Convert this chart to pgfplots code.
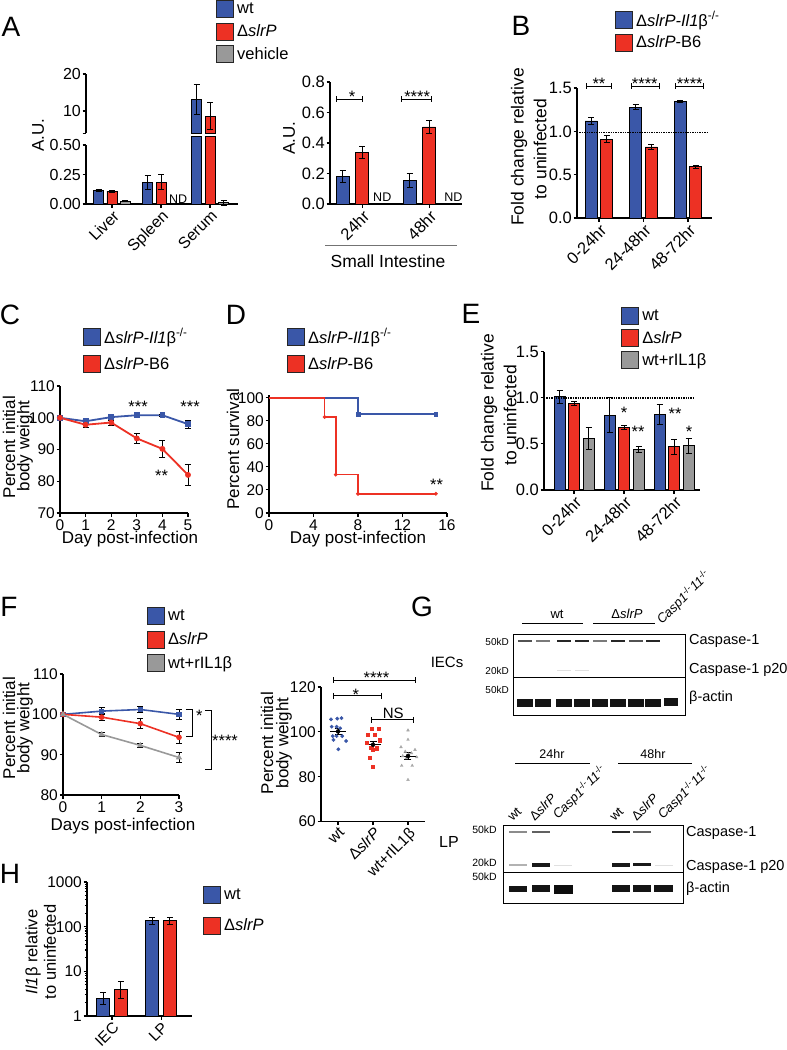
\documentclass[border=0pt]{standalone}
\usepackage{fontspec}
\setmainfont{Liberation Sans}
\usepackage{pgfplots}
\pgfplotsset{compat=1.18}
\definecolor{cb}{RGB}{58,87,168}
\definecolor{cr}{RGB}{237,49,36}
\definecolor{cg}{RGB}{153,153,153}
\newcommand{\fs}[1]{\fontsize{#1}{#1}\selectfont}
\newcommand{\ko}{\textsuperscript{-/-}}
\pgfplotsset{
 gp/.style={scale only axis, anchor=south west, axis lines*=left,
   axis line style={-, line width=1.1pt},
   tick style={line width=1.1pt, black},
   tick align=outside, major tick length=3.5pt, minor tick length=2.2pt,
   tick label style={font=\fs{15.5}},
   yticklabel style={inner sep=1.5pt},
   /pgf/number format/assume math mode=true,
   /pgf/number format/1000 sep={},
   clip=false,
   legend style={draw=none, fill=none, inner sep=0pt, outer sep=0pt, font=\fs{16.5}, anchor=north west, nodes={inner sep=1.5pt}, column sep=2pt},
   legend cell align=left},
 eb/.style={error bars/y dir=both, error bars/y explicit,
   error bars/error bar style={line width=0.9pt, black, solid},
   error bars/error mark options={rotate=90, line width=0.9pt, black, mark size=#1, solid}},
 eb/.default=3pt,
 sq/.style={legend image code/.code={\draw[fill=#1, draw=black!85, line width=0.7pt] (0pt,-8.5pt) rectangle (17pt,8.5pt);}},
 bb/.style={fill=#1, draw=black, line width=0.8pt},
 rot/.style={xticklabel style={rotate=45, anchor=north east, inner sep=1pt}},
 brk/.style={sharp plot, black, line width=1pt, mark=|, mark size=3pt, mark options={solid, line width=1pt}, forget plot},
 blot/.style={scale only axis, anchor=south west, xtick=\empty, ytick=\empty, axis line style={line width=1pt}, unbounded coords=jump, clip=true},
 f1/.style={y tick label style={/pgf/number format/fixed, /pgf/number format/fixed zerofill, /pgf/number format/precision=1}},
}
\tikzset{st/.style={font=\fs{16.5}, anchor=base, yshift=-9pt, inner sep=0pt}}
\begin{document}
\begin{tikzpicture}
\path[use as bounding box] (0pt,0pt) rectangle (787pt,-1050pt);
% panel letters
\node[font=\fs{28}] at (11pt,-27pt) {A};
\node[font=\fs{28}] at (521pt,-26pt) {B};
\node[font=\fs{28}] at (10pt,-315pt) {C};
\node[font=\fs{28}] at (236pt,-315pt) {D};
\node[font=\fs{28}] at (471pt,-314pt) {E};
\node[font=\fs{28}] at (9pt,-607pt) {F};
\node[font=\fs{28}] at (422pt,-607pt) {G};
\node[font=\fs{28}] at (10pt,-874pt) {H};

% ================= A (left, broken axis) =================
\begin{axis}[gp, rot, at={(86pt,-204pt)}, width=152pt, height=59pt,
 tick label style={font=\fs{16}},
 xmin=-0.53, xmax=2.57, ymin=0, ymax=0.5, ybar, bar width=0.204,
 xtick={0,1,2}, xticklabels={Liver,Spleen,Serum}, ytick={0,0.25,0.5},
 y tick label style={/pgf/number format/fixed, /pgf/number format/fixed zerofill, /pgf/number format/precision=2}]
\addplot[bb=cb, bar shift=-0.275, eb] coordinates {(0,0.115)+-(0,0.008) (1,0.18)+-(0,0.06)};
\addplot[bb=cr, bar shift=0, eb] coordinates {(0,0.11)+-(0,0.008) (1,0.185)+-(0,0.065)};
\addplot[bb=cg, bar shift=0.275, eb] coordinates {(0,0.022)+-(0,0.004) (2,0.012)+-(0,0.02)};
\addplot[bb=cb, bar shift=-0.275] coordinates {(2,0.57)};
\addplot[bb=cr, bar shift=0] coordinates {(2,0.57)};
\node[font=\fs{12.5}] at (axis cs:1.35,0.04) {ND};
\end{axis}
\begin{axis}[gp, at={(86pt,-133.2pt)}, width=152pt, height=59.2pt,
 tick label style={font=\fs{16}},
 xmin=-0.53, xmax=2.57, ymin=4, ymax=20, clip=true, axis x line=none, axis y line*=left,
 ytick={10,20}, extra y ticks={4}, extra y tick labels={}, ybar, bar width=0.204,
 legend style={at={(axis description cs:0.855,2.25)}, row sep=5pt}]
\addplot[bb=cb, bar shift=-0.275, eb, forget plot] coordinates {(2,13.2)+-(0,4.1)};
\addplot[bb=cr, bar shift=0, eb, forget plot] coordinates {(2,8.65)+-(0,3.7)};
\addlegendimage{sq=cb}\addlegendentry{wt}
\addlegendimage{sq=cr}\addlegendentry{Δ\textit{slrP}}
\addlegendimage{sq=cg}\addlegendentry{vehicle}
\end{axis}
\node[rotate=90, font=\fs{17}] at (38pt,-135pt) {A.U.};

% ================= A (right, small intestine) =================
\begin{axis}[gp, rot, f1, at={(330pt,-204pt)}, width=132pt, height=122pt,
 tick label style={font=\fs{16.5}},
 xmin=-0.48, xmax=1.49, ymin=0, ymax=0.8, ybar, bar width=0.194,
 xtick={0,1}, xticklabels={24hr,48hr}, ytick={0,0.2,0.4,0.6,0.8}]
\addplot[bb=cb, bar shift=-0.29, eb] coordinates {(0,0.18)+-(0,0.04) (1,0.155)+-(0,0.045)};
\addplot[bb=cr, bar shift=0, eb] coordinates {(0,0.34)+-(0,0.04) (1,0.505)+-(0,0.04)};
\addplot[brk] coordinates {(-0.38,0.686) (0,0.686)};
\addplot[brk] coordinates {(0.59,0.686) (1.04,0.686)};
\node[st] at (axis cs:-0.15,0.723) {*};
\node[st] at (axis cs:0.82,0.723) {****};
\node[font=\fs{12.5}] at (axis cs:0.3,0.046) {ND};
\node[font=\fs{12.5}] at (axis cs:1.36,0.046) {ND};
\end{axis}
\node[rotate=90, font=\fs{17}] at (289pt,-138pt) {A.U.};
\draw[line width=1pt, black!55] (325pt,-245pt) -- (457pt,-245pt);
\node[font=\fs{17.5}] at (388pt,-261pt) {Small Intestine};

% ================= B =================
\begin{axis}[gp, rot, f1, at={(577pt,-218pt)}, width=135pt, height=130pt,
 tick label style={font=\fs{16.5}},
 xmin=-0.494, xmax=2.54, ymin=0, ymax=1.5, ybar, bar width=0.27,
 xtick={0,1,2}, xticklabels={0-24hr,24-48hr,48-72hr}, ytick={0,0.5,1,1.5},
 legend style={at={(axis description cs:0.281,1.60)}, row sep=4.5pt}]
\addplot[bb=cb, bar shift=-0.175, eb, forget plot] coordinates {(0,1.12)+-(0,0.04) (1,1.28)+-(0,0.03) (2,1.35)+-(0,0.012)};
\addplot[bb=cr, bar shift=0.175, eb, forget plot] coordinates {(0,0.91)+-(0,0.04) (1,0.82)+-(0,0.03) (2,0.59)+-(0,0.02)};
\addplot[sharp plot, densely dotted, line width=1.4pt, black, forget plot] coordinates {(-0.494,0.985) (2.45,0.985)};
\addplot[brk] coordinates {(-0.29,1.523) (0.29,1.523)};
\addplot[brk] coordinates {(0.72,1.523) (1.37,1.523)};
\addplot[brk] coordinates {(1.73,1.523) (2.36,1.523)};
\node[st] at (axis cs:0,1.592) {**};
\node[st] at (axis cs:1.03,1.592) {****};
\node[st] at (axis cs:2.04,1.592) {****};
\addlegendimage{sq=cb}\addlegendentry{Δ\textit{slrP-Il1}β\ko}
\addlegendimage{sq=cr}\addlegendentry{Δ\textit{slrP}-B6}
\end{axis}
\node[rotate=90, font=\fs{17.5}] at (519pt,-147pt) {Fold change relative};
\node[rotate=90, font=\fs{17.5}] at (540pt,-149pt) {to uninfected};

% ================= C =================
\begin{axis}[gp, at={(60pt,-513pt)}, width=128pt, height=127pt,
 xmin=0, xmax=5, ymin=70, ymax=110, xtick={0,1,2,3,4,5}, ytick={70,80,90,100,110},
 legend style={at={(axis description cs:0.18,1.465)}, row sep=9pt}]
\addplot[cb, line width=1.8pt, mark=square*, mark size=2pt, mark options={solid}, eb, forget plot] coordinates {(0,100)+-(0,0) (1,98.9)+-(0,0.5) (2,100.2)+-(0,0.5) (3,100.8)+-(0,0.3) (4,100.8)+-(0,0.3) (5,98)+-(0,1.3)};
\addplot[cr, line width=1.8pt, mark=*, mark size=2pt, mark options={solid}, eb, forget plot] coordinates {(0,100)+-(0,0) (1,97.8)+-(0,1) (2,98.5)+-(0,0.8) (3,93.5)+-(0,1.7) (4,90.2)+-(0,2.8) (5,82)+-(0,3.4)};
\node[st] at (axis cs:3.05,104.5) {***};
\node[st] at (axis cs:5.08,104.5) {***};
\node[st] at (axis cs:3.97,82.8) {**};
\addlegendimage{sq=cb}\addlegendentry{Δ\textit{slrP-Il1}β\ko}
\addlegendimage{sq=cr}\addlegendentry{Δ\textit{slrP}-B6}
\end{axis}
\node[rotate=90, font=\fs{17}] at (9pt,-447pt) {Percent initial};
\node[rotate=90, font=\fs{17}] at (25pt,-446pt) {body weight};
\node[font=\fs{17}] at (130pt,-539pt) {Day post-infection};

% ================= D =================
\begin{axis}[gp, at={(269pt,-513pt)}, width=178pt, height=117.6pt,
 xmin=0, xmax=16, ymin=0, ymax=102, xtick={0,4,8,12,16}, ytick={0,20,40,60,80,100},
 legend style={at={(axis description cs:0.101,1.582)}, row sep=9pt}]
\addplot[cb, const plot mark left, line width=1.6pt, forget plot] coordinates {(0,100) (8,85.7) (15,85.7)};
\addplot[cb, only marks, mark=square*, mark size=1.8pt, forget plot] coordinates {(8,85.7) (15,85.7)};
\addplot[cr, const plot mark left, line width=1.6pt, forget plot] coordinates {(0,100) (5,83.3) (6,33.3) (8,16.7) (15,16.7)};
\addplot[cr, only marks, mark=*, mark size=1.8pt, forget plot] coordinates {(5,83.3) (6,33.3) (8,16.7) (15,16.7)};
\node[st] at (axis cs:15.07,27.1) {**};
\addlegendimage{sq=cb}\addlegendentry{Δ\textit{slrP-Il1}β\ko}
\addlegendimage{sq=cr}\addlegendentry{Δ\textit{slrP}-B6}
\end{axis}
\node[rotate=90, font=\fs{17}] at (233pt,-449pt) {Percent survival};
\node[font=\fs{17}] at (358pt,-539pt) {Day post-infection};

% ================= E =================
\begin{axis}[gp, rot, f1, at={(544pt,-490pt)}, width=156pt, height=138.3pt,
 tick label style={font=\fs{16.5}},
 xmin=-0.6, xmax=2.52, ymin=0, ymax=1.5, ybar, bar width=0.22,
 xtick={0,1,2}, xticklabels={0-24hr,24-48hr,48-72hr}, ytick={0,0.5,1,1.5},
 legend style={at={(axis description cs:0.494,1.323)}, row sep=4.5pt}]
\addplot[bb=cb, bar shift=-0.29, eb, forget plot] coordinates {(0,1.01)+-(0,0.07) (1,0.81)+-(0,0.19) (2,0.82)+-(0,0.11)};
\addplot[bb=cr, bar shift=0, eb, forget plot] coordinates {(0,0.94)+-(0,0.02) (1,0.68)+-(0,0.02) (2,0.47)+-(0,0.08)};
\addplot[bb=cg, bar shift=0.29, eb, forget plot] coordinates {(0,0.56)+-(0,0.12) (1,0.44)+-(0,0.03) (2,0.48)+-(0,0.08)};
\addplot[sharp plot, densely dotted, line width=1.4pt, black, forget plot] coordinates {(-0.6,1.0) (2.38,1.0)};
\node[st] at (axis cs:1.0,0.87) {*};
\node[st] at (axis cs:1.28,0.67) {**};
\node[st] at (axis cs:2.02,0.86) {**};
\node[st] at (axis cs:2.3,0.67) {*};
\addlegendimage{sq=cb}\addlegendentry{wt}
\addlegendimage{sq=cr}\addlegendentry{Δ\textit{slrP}}
\addlegendimage{sq=cg}\addlegendentry{wt+rIL1β}
\end{axis}
\node[rotate=90, font=\fs{17.5}] at (489pt,-413pt) {Fold change relative};
\node[rotate=90, font=\fs{17.5}] at (510pt,-415pt) {to uninfected};

% ================= F (left) =================
\begin{axis}[gp, at={(63pt,-795pt)}, width=116pt, height=121pt,
 xmin=0, xmax=3, ymin=80, ymax=110, xtick={0,1,2,3}, ytick={80,90,100,110},
 legend style={at={(axis description cs:0.724,1.554)}, row sep=6pt}]
\addplot[cb, line width=1.6pt, mark=square*, mark size=1.8pt, mark options={solid}, eb, forget plot] coordinates {(0,100)+-(0,0) (1,100.8)+-(0,0.8) (2,101.2)+-(0,0.8) (3,100)+-(0,1.2)};
\addplot[cr, line width=1.6pt, mark=*, mark size=2pt, mark options={solid}, eb, forget plot] coordinates {(0,100)+-(0,0) (1,99.3)+-(0,0.8) (2,97.7)+-(0,1.2) (3,94.3)+-(0,1.5)};
\addplot[cg, line width=1.6pt, mark=triangle*, mark size=2pt, mark options={solid}, eb, forget plot] coordinates {(0,100)+-(0,0) (1,95)+-(0,0.5) (2,92.3)+-(0,0.6) (3,89.3)+-(0,1.3)};
\addplot[sharp plot, black, line width=1pt, forget plot] coordinates {(3.18,101.1) (3.35,101.1) (3.35,94.5) (3.18,94.5)};
\addplot[sharp plot, black, line width=1pt, forget plot] coordinates {(3.67,100.9) (3.84,100.9) (3.84,86.4) (3.67,86.4)};
\node[st] at (axis cs:3.525,100.4) {*};
\node[st] at (axis cs:4.19,94.2) {****};
\addlegendimage{sq=cb}\addlegendentry{wt}
\addlegendimage{sq=cr}\addlegendentry{Δ\textit{slrP}}
\addlegendimage{sq=cg}\addlegendentry{wt+rIL1β}
\end{axis}
\node[rotate=90, font=\fs{17}] at (9pt,-728pt) {Percent initial};
\node[rotate=90, font=\fs{17}] at (25pt,-728pt) {body weight};
\node[font=\fs{17}] at (123pt,-826pt) {Days post-infection};

% ================= F (right, scatter) =================
\begin{axis}[gp, at={(321pt,-821.5pt)}, width=104pt, height=134.5pt,
 xmin=-0.486, xmax=2.486, ymin=60, ymax=120, xtick={0,1,2},
 xticklabels={wt,Δ\textit{slrP},wt+rIL1β},
 xticklabel style={rotate=45, anchor=north east, inner sep=1pt},
 ytick={60,80,100,120}]
\addplot[only marks, mark=*, mark size=1.7pt, cb] coordinates {(-0.2,105.6) (-0.02,105.9) (0.1,106.1) (-0.18,102.3) (-0.04,102.3) (0.06,101.6) (-0.15,98.1) (-0.04,98.1) (0.12,98.1) (-0.13,96.4) (0.23,95.9) (0.01,92.2)};
\addplot[only marks, mark=square*, mark size=1.6pt, cr] coordinates {(0.97,101.5) (1.17,101.4) (0.85,98.8) (1.05,98.7) (1.18,96.3) (0.83,95) (0.95,93.1) (1.1,92.7) (1.0,92.2) (0.9,88.5) (0.99,84.5)};
\addplot[only marks, mark=triangle*, mark size=1.6pt, cg!85] coordinates {(2.0,100.7) (2.0,96.5) (1.8,93.2) (2.2,92.0) (1.92,91.2) (2.1,90.5) (2.02,90.0) (1.85,89.2) (2.25,88.7) (1.95,88.3) (1.82,84.9) (2.12,84.9) (2.0,78.6)};
\addplot[sharp plot, black, line width=1.1pt] coordinates {(-0.22,100.2) (0.22,100.2)};
\addplot[sharp plot, black, line width=1.1pt] coordinates {(0.78,94.25) (1.22,94.25)};
\addplot[sharp plot, black, line width=1.1pt] coordinates {(1.78,89.2) (2.22,89.2)};
\addplot[only marks, mark=none, eb=3.5pt] coordinates {(0,100.2)+-(0,1.2) (1,94.25)+-(0,1.6) (2,89.2)+-(0,1.5)};
\addplot[brk] coordinates {(-0.13,123.1) (2.22,123.1)};
\addplot[brk] coordinates {(-0.13,116) (1.23,116)};
\addplot[brk] coordinates {(0.96,105.3) (2.17,105.3)};
\node[st] at (axis cs:1.1,125.4) {****};
\node[st] at (axis cs:0.51,117.9) {*};
\node[font=\fs{15}, anchor=south, inner sep=1pt] at (axis cs:1.58,105.5) {NS};
\end{axis}
\node[rotate=90, font=\fs{17}] at (267pt,-743pt) {Percent initial};
\node[rotate=90, font=\fs{17}] at (284pt,-743pt) {body weight};

% ================= H =================
\begin{axis}[gp, rot, at={(87pt,-1016pt)}, width=105pt, height=134pt,
 xmin=-0.51, xmax=1.63, ymode=log, ymin=1, ymax=1000, log ticks with fixed point,
 ytick={1,10,100,1000}, ybar, bar width=0.265, xtick={0,1}, xticklabels={IEC,LP},
 legend style={at={(axis description cs:1.105,0.97)}, row sep=13pt}]
\addplot[bb=cb, bar shift=-0.18, eb, forget plot] coordinates {(0,2.5) += (0,0.8) -= (0,0.7) (1,135) += (0,25) -= (0,20)};
\addplot[bb=cr, bar shift=0.18, eb, forget plot] coordinates {(0,4) += (0,2) -= (0,1.5) (1,135) += (0,27) -= (0,23)};
\addlegendimage{sq=cb}\addlegendentry{wt}
\addlegendimage{sq=cr}\addlegendentry{Δ\textit{slrP}}
\end{axis}
\node[rotate=90, font=\fs{16.5}] at (33pt,-952pt) {\textit{Il1}β relative};
\node[rotate=90, font=\fs{16.5}] at (50pt,-952pt) {to uninfected};

% ================= G (IECs blot) =================
\begin{axis}[blot, at={(513pt,-715pt)}, width=172pt, height=81pt, xmin=513, xmax=685, ymin=0, ymax=81]
\addplot[black!85, line width=2.6pt] coordinates {(557,74)(571,74) (0,nan) (575,74)(589,74) (0,nan) (611,74)(625,74) (0,nan) (646,74)(660,74)};
\addplot[black!68, line width=2.2pt] coordinates {(518,74)(532,74) (0,nan) (629,74)(643,74)};
\addplot[black!52, line width=2pt] coordinates {(536,74)(550,74) (0,nan) (593,74)(607,74)};
\addplot[black!12, line width=1pt] coordinates {(557,45)(571,45) (0,nan) (575,45)(589,45)};
\addplot[black!92, line width=8pt] coordinates {(517,12)(533,12) (0,nan) (535,12)(551,12) (0,nan) (556,12)(572,12) (0,nan) (574,12)(590,12) (0,nan) (592,12)(608,12) (0,nan) (610,12)(626,12) (0,nan) (628,12)(644,12) (0,nan) (645,12)(661,12) (0,nan) (664,13.5)(678,13.5)};
\addplot[black, line width=1pt] coordinates {(513,38)(685,38)};
\end{axis}
\node[font=\fs{15}] at (447pt,-662pt) {IECs};
\node[font=\fs{13}] at (557pt,-614pt) {wt};
\draw[line width=0.9pt] (522pt,-623pt) -- (583pt,-623pt);
\node[font=\fs{13}] at (627pt,-614pt) {Δ\textit{slrP}};
\draw[line width=0.9pt] (593pt,-623pt) -- (655pt,-623pt);
\node[font=\fs{13}, rotate=45, anchor=south west, inner sep=0pt] at (664pt,-627pt) {\textit{Casp1}\ko\textit{11}\ko};
\node[font=\fs{10}, anchor=east, inner sep=0pt] at (509pt,-642pt) {50kD};
\node[font=\fs{10}, anchor=east, inner sep=0pt] at (509pt,-671pt) {20kD};
\node[font=\fs{10}, anchor=east, inner sep=0pt] at (509pt,-690pt) {50kD};
\node[font=\fs{14.5}, anchor=west, inner sep=0pt] at (689pt,-641pt) {Caspase-1};
\node[font=\fs{14.5}, anchor=west, inner sep=0pt] at (689pt,-670pt) {Caspase-1 p20};
\node[font=\fs{14.5}, anchor=west, inner sep=0pt] at (689pt,-698pt) {β-actin};

% ================= G (LP blot) =================
\begin{axis}[blot, at={(503pt,-903pt)}, width=180pt, height=78pt, xmin=503, xmax=683, ymin=0, ymax=78]
\addplot[black!45, line width=1.6pt] coordinates {(509,71)(527,71)};
\addplot[black!62, line width=1.8pt] coordinates {(532,71)(550,71) (0,nan) (633,71)(651,71)};
\addplot[black!85, line width=2.4pt] coordinates {(612,71)(630,71)};
\addplot[black!30, line width=1.2pt] coordinates {(509,38)(527,38)};
\addplot[black!12, line width=1pt] coordinates {(554,38)(572,38) (0,nan) (655,38)(673,38)};
\addplot[black!90, line width=3.2pt] coordinates {(532,38)(550,38) (0,nan) (612,38)(630,38) (0,nan) (633,38.5)(651,38.5)};
\addplot[black!92, line width=6.5pt] coordinates {(509,14)(527,14) (0,nan) (532,14.5)(550,14.5) (0,nan) (612,14.5)(630,14.5) (0,nan) (633,14.5)(651,14.5) (0,nan) (654,14.5)(673,14.5)};
\addplot[black!95, line width=8.5pt] coordinates {(554,13.5)(573,13.5)};
\addplot[black, line width=1pt] coordinates {(503,31)(683,31)};
\end{axis}
\node[font=\fs{16}] at (449pt,-842pt) {LP};
\node[font=\fs{12.5}] at (552pt,-754pt) {24hr};
\draw[line width=0.9pt] (515pt,-763pt) -- (590pt,-763pt);
\node[font=\fs{12.5}] at (653pt,-754pt) {48hr};
\draw[line width=0.9pt] (618pt,-763pt) -- (692pt,-763pt);
\node[font=\fs{13}, rotate=45, anchor=south west, inner sep=0pt] at (513pt,-822pt) {wt};
\node[font=\fs{13}, rotate=45, anchor=south west, inner sep=0pt] at (535pt,-822pt) {Δ\textit{slrP}};
\node[font=\fs{13}, rotate=45, anchor=south west, inner sep=0pt] at (560pt,-822pt) {\textit{Casp1}\ko\textit{11}\ko};
\node[font=\fs{13}, rotate=45, anchor=south west, inner sep=0pt] at (615pt,-822pt) {wt};
\node[font=\fs{13}, rotate=45, anchor=south west, inner sep=0pt] at (637pt,-822pt) {Δ\textit{slrP}};
\node[font=\fs{13}, rotate=45, anchor=south west, inner sep=0pt] at (665pt,-822pt) {\textit{Casp1}\ko\textit{11}\ko};
\node[font=\fs{10.5}, anchor=east, inner sep=0pt] at (497pt,-830pt) {50kD};
\node[font=\fs{10.5}, anchor=east, inner sep=0pt] at (497pt,-863pt) {20kD};
\node[font=\fs{10.5}, anchor=east, inner sep=0pt] at (497pt,-877pt) {50kD};
\node[font=\fs{14.5}, anchor=west, inner sep=0pt] at (686pt,-833pt) {Caspase-1};
\node[font=\fs{14.5}, anchor=west, inner sep=0pt] at (686pt,-867pt) {Caspase-1 p20};
\node[font=\fs{14.5}, anchor=west, inner sep=0pt] at (686pt,-889pt) {β-actin};
\end{tikzpicture}
\end{document}
